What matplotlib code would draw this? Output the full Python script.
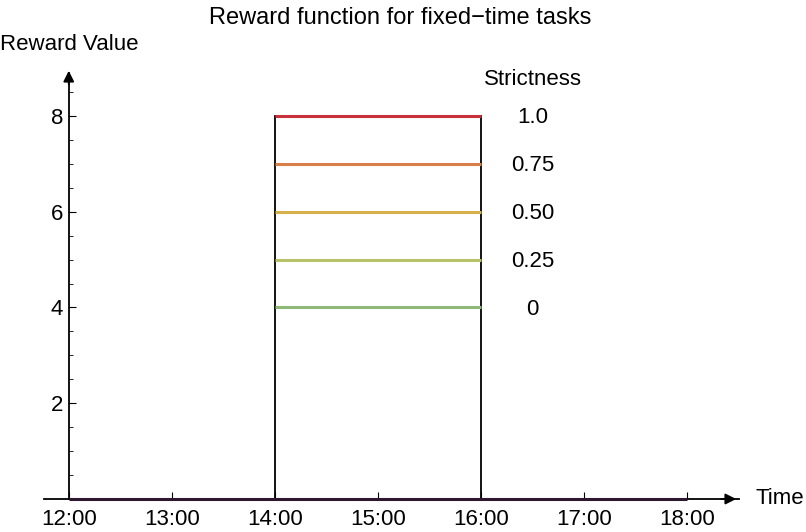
import numpy as np
import matplotlib.pyplot as plt

plt.rcParams["font.family"] = ["Liberation Sans", "DejaVu Sans"]

# data
hours = [12, 13, 14, 15, 16, 17, 18]
hour_labels = ["12:00", "13:00", "14:00", "15:00", "16:00", "17:00", "18:00"]
task_start = 14
task_end = 16
strictness = ["1.0", "0.75", "0.50", "0.25", "0"]
reward = [8, 7, 6, 5, 4]
line_colors = ["#c8313a", "#d9804a", "#d6b04a", "#b7c26a", "#8db878"]

fig = plt.figure(figsize=(8.06, 5.32), dpi=100)
ax = fig.add_axes([44 / 806, 33 / 532, 695 / 806, 431 / 532])
ax.set_xlim(11.76, 18.5)
ax.set_ylim(0, 9.0)

# zero reward outside the window
ax.plot([hours[0], hours[-1]], [0, 0], color="#2e1830", lw=2.2, zorder=3,
        clip_on=False, solid_capstyle="butt")

# window edges
for t in (task_start, task_end):
    ax.plot([t, t], [0, max(reward)], color="black", lw=1.3, zorder=2)

for r, c in zip(reward, line_colors):
    ax.plot([task_start, task_end], [r, r], color=c, lw=2.2, zorder=3,
            solid_capstyle="butt")

# level labels
for r, s in zip(reward, strictness):
    ax.text(16.5, r - 0.04, s, ha="center", va="center", fontsize=16)
ax.text(16.5, 8.77, "Strictness", ha="center", va="center", fontsize=16)

# axes through origin, Mathematica style
for side in ("top", "right"):
    ax.spines[side].set_visible(False)
ax.spines["left"].set_position(("data", 12))
ax.spines["bottom"].set_position(("data", 0))
ax.spines["left"].set_linewidth(1.3)
ax.spines["bottom"].set_linewidth(1.3)
ax.spines["left"].set_bounds(0, 8.9)

ax.set_xticks(hours)
ax.set_xticklabels(hour_labels)
ax.set_yticks([2, 4, 6, 8])
ax.set_yticks(np.arange(0.5, 9, 0.5), minor=True)
ax.tick_params(axis="both", direction="in", labelsize=16, length=5, width=0.8)
ax.tick_params(axis="y", which="minor", direction="in", length=3, width=0.6)
ax.tick_params(axis="x", pad=7.5)
ax.tick_params(axis="y", pad=4)

ax.annotate("", xy=(18.5, 0), xytext=(18.3, 0),
            arrowprops=dict(arrowstyle="-|>", color="black", lw=1.3, mutation_scale=16),
            annotation_clip=False)
ax.annotate("", xy=(12, 9.0), xytext=(12, 8.6),
            arrowprops=dict(arrowstyle="-|>", color="black", lw=1.3, mutation_scale=16),
            annotation_clip=False)

fig.text(755 / 806, 1 - 498 / 532, "Time", ha="left", va="center", fontsize=16)
fig.text(0.0, 1 - 45 / 532, "Reward Value", ha="left", va="center", fontsize=16)
fig.text(400 / 806, 1 - 18 / 532, "Reward function for fixed\u2212time tasks",
         ha="center", va="center", fontsize=17)

fig.savefig("out.png", dpi=100)
